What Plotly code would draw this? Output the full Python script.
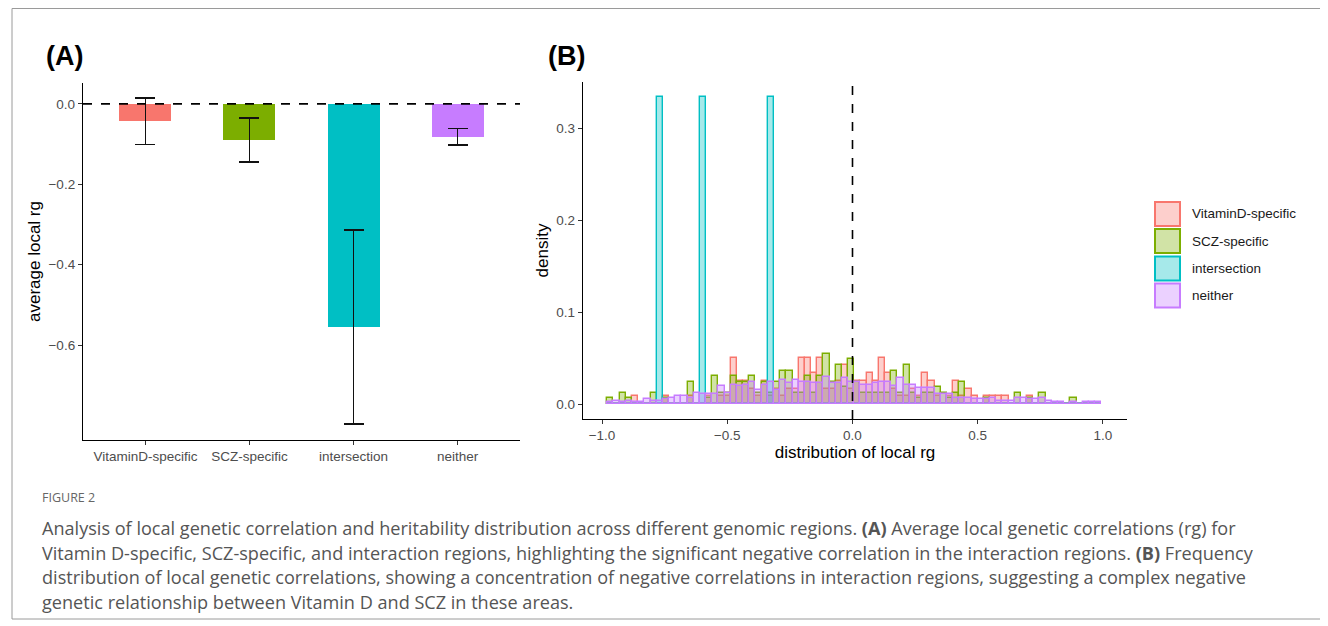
import numpy as np
import plotly.graph_objects as go

# page has an 8px body margin; figure fills the rest of the 1328x626 window
OFF = 8
W, H = 1320, 618

groups = ["VitaminD-specific", "SCZ-specific", "intersection", "neither"]
line_colors = ["#F8766D", "#7CAE00", "#00BFC4", "#C77CFF"]
fill_colors = ["rgba(248,118,109,0.35)", "rgba(124,174,0,0.35)",
               "rgba(0,191,196,0.35)", "rgba(199,124,255,0.35)"]

# Panel A: average local rg per region group, with error half-widths
mean_rg = [-0.043, -0.090, -0.555, -0.082]
err_rg = [0.058, 0.055, 0.242, 0.021]

# Panel B: histogram of local rg (80 bins), counts per bin for each group
bin_start = -0.979
bin_width = 0.02465
counts_vitd = [0, 0, 0, 0, 1, 0, 0, 0, 0, 1,
               0, 0, 0, 1, 0, 0, 1, 0, 1, 1,
               6, 3, 3, 2, 1, 3, 1, 2, 1, 2,
               2, 6, 6, 4, 6, 2, 2, 3, 5, 2,
               3, 3, 4, 3, 6, 4, 2, 1, 1, 2,
               1, 4, 3, 1, 0, 1, 3, 1, 2, 1,
               0, 1, 1, 1, 1, 0, 0, 0, 1, 0,
               0, 0, 0, 0, 0, 0, 0, 0, 0, 0]
counts_scz = [1, 0, 2, 1, 0, 0, 0, 2, 0, 1,
              0, 0, 0, 4, 0, 0, 1, 5, 2, 2,
              5, 4, 4, 5, 2, 4, 2, 4, 6, 6,
              2, 2, 5, 2, 5, 9, 4, 7, 3, 8,
              4, 2, 2, 2, 2, 2, 6, 2, 7, 2,
              1, 2, 2, 3, 2, 1, 2, 4, 0, 0,
              0, 1, 0, 0, 0, 0, 2, 0, 1, 0,
              2, 0, 0, 0, 0, 1, 0, 0, 0, 0]
counts_inter = [0] * 80
for k in (8, 15, 26):
    counts_inter[k] = 1
counts_neither = [1, 2, 1, 2, 1, 1, 3, 2, 2, 3,
                  4, 5, 5, 4, 7, 6, 6, 6, 11, 7,
                  12, 11, 12, 14, 9, 12, 14, 9, 15, 13,
                  15, 14, 14, 13, 13, 17, 13, 13, 16, 14,
                  14, 12, 12, 13, 14, 14, 11, 16, 12, 12,
                  10, 10, 10, 6, 6, 6, 4, 4, 4, 3,
                  3, 3, 4, 2, 2, 2, 4, 4, 3, 3,
                  4, 2, 1, 1, 0, 1, 0, 1, 1, 1]
hist_counts = [counts_vitd, counts_scz, counts_inter, counts_neither]

caption_title = "FIGURE 2"
caption_lines = [
    "Analysis of local genetic correlation and heritability distribution across different genomic regions. <b>(A)</b> Average local genetic correlations (rg) for",
    "Vitamin D-specific, SCZ-specific, and interaction regions, highlighting the significant negative correlation in the interaction regions. <b>(B)</b> Frequency",
    "distribution of local genetic correlations, showing a concentration of negative correlations in interaction regions, suggesting a complex negative",
    "genetic relationship between Vitamin D and SCZ in these areas.",
]


def px(x):
    return (x - OFF) / W


def py(y):
    return 1 - (y - OFF) / H


FONT = "Liberation Sans, Arial, sans-serif"
TICK = dict(family=FONT, size=13.5, color="#4D4D4D")
TITLE = dict(family=FONT, size=17, color="#000000")

fig = go.Figure()

# Panel A bars
fig.add_trace(go.Bar(
    x=groups, y=mean_rg, width=0.5,
    marker=dict(color=line_colors, line=dict(width=0)),
    error_y=dict(type="data", array=err_rg, visible=True, color="#111111",
                 thickness=1.8, width=10),
    xaxis="x", yaxis="y", showlegend=False,
))

# Panel B histograms
centers = bin_start + bin_width * (np.arange(80) + 0.5)
for name, cnt, lc, fc in zip(groups, hist_counts, line_colors, fill_colors):
    cnt = np.array(cnt, dtype=float)
    prop = cnt / cnt.sum()
    fig.add_trace(go.Bar(
        x=centers, y=prop, width=bin_width, name=name,
        marker=dict(color=fc, line=dict(color=lc, width=1.4)),
        xaxis="x2", yaxis="y2", showlegend=False,
    ))

axis_common = dict(showgrid=False, zeroline=False, showline=True,
                   linecolor="#000000", linewidth=1.3, ticks="outside",
                   ticklen=4, tickwidth=1, tickcolor="#333333", tickfont=TICK)

fig.update_layout(
    width=W, height=H, autosize=False,
    margin=dict(l=0, r=0, t=0, b=0),
    paper_bgcolor="white", plot_bgcolor="white",
    barmode="overlay", bargap=0,
    xaxis=dict(domain=[px(83), px(520)], anchor="y", range=[-0.6, 3.6],
               type="category", **axis_common),
    yaxis=dict(domain=[py(440), py(83)], anchor="x", range=[-0.836, 0.052],
               tickvals=[0, -0.2, -0.4, -0.6], tickformat=".1f",
               title=dict(text="average local rg", font=TITLE, standoff=3),
               **axis_common),
    xaxis2=dict(domain=[px(583), px(1127)], anchor="y2", range=[-1.076, 1.096],
                tickvals=[-1, -0.5, 0, 0.5, 1], tickformat=".1f",
                title=dict(text="distribution of local rg", font=TITLE, standoff=0),
                **axis_common),
    yaxis2=dict(domain=[py(419), py(82)], anchor="x2", range=[-0.0163, 0.35],
                tickvals=[0, 0.1, 0.2, 0.3], tickformat=".1f",
                title=dict(text="density", font=TITLE, standoff=3),
                **axis_common),
    font=dict(family=FONT),
)

# dashed reference lines
fig.add_shape(type="line", xref="x domain", yref="y", x0=0, x1=1, y0=0, y1=0,
              line=dict(color="#000000", width=1.6, dash="dash"))
fig.add_shape(type="line", xref="x2", yref="y2 domain", x0=0, x1=0, y0=0, y1=1,
              line=dict(color="#000000", width=1.6, dash="dash"))

# panel tags
for tag, xc in (("<b>(A)</b>", 64), ("<b>(B)</b>", 566)):
    fig.add_annotation(x=px(xc), y=py(56), xref="paper", yref="paper", text=tag,
                       xanchor="center", yanchor="middle", showarrow=False,
                       font=dict(family=FONT, size=27, color="#000000"))

# legend (drawn)
leg_y = [214, 241, 268.5, 295.5]
for name, lc, fc, yc in zip(groups, line_colors, fill_colors, leg_y):
    fig.add_shape(type="rect", xref="paper", yref="paper",
                  x0=px(1155), x1=px(1180), y0=py(yc - 12), y1=py(yc + 12),
                  fillcolor=fc, line=dict(color=lc, width=2))
    fig.add_annotation(x=px(1190), y=py(yc), xref="paper", yref="paper", text=name,
                       xanchor="left", yanchor="middle", showarrow=False,
                       font=dict(family=FONT, size=13.5, color="#1A1A1A"))

# caption
CAP = "Open Sans, Noto Sans, sans-serif"
fig.add_annotation(x=px(40), y=py(497), xref="paper", yref="paper", text=caption_title,
                   xanchor="left", yanchor="middle", showarrow=False,
                   font=dict(family=CAP, size=12.5, color="#666666"))
for i, line in enumerate(caption_lines):
    fig.add_annotation(x=px(40), y=py(528 + 24.7 * i), xref="paper", yref="paper",
                       text=line, xanchor="left", yanchor="middle", showarrow=False,
                       font=dict(family=CAP, size=18.1, color="#555555"))

# frame
for (x0, y0, x1, y1) in [(12, 8.5, 1328, 8.5), (12, 8.5, 12, 619), (12, 619, 1328, 619)]:
    fig.add_shape(type="line", xref="paper", yref="paper",
                  x0=px(x0), y0=py(y0), x1=px(x1), y1=py(y1),
                  line=dict(color="#9A9A9A", width=1))

fig.write_html("out.html")
